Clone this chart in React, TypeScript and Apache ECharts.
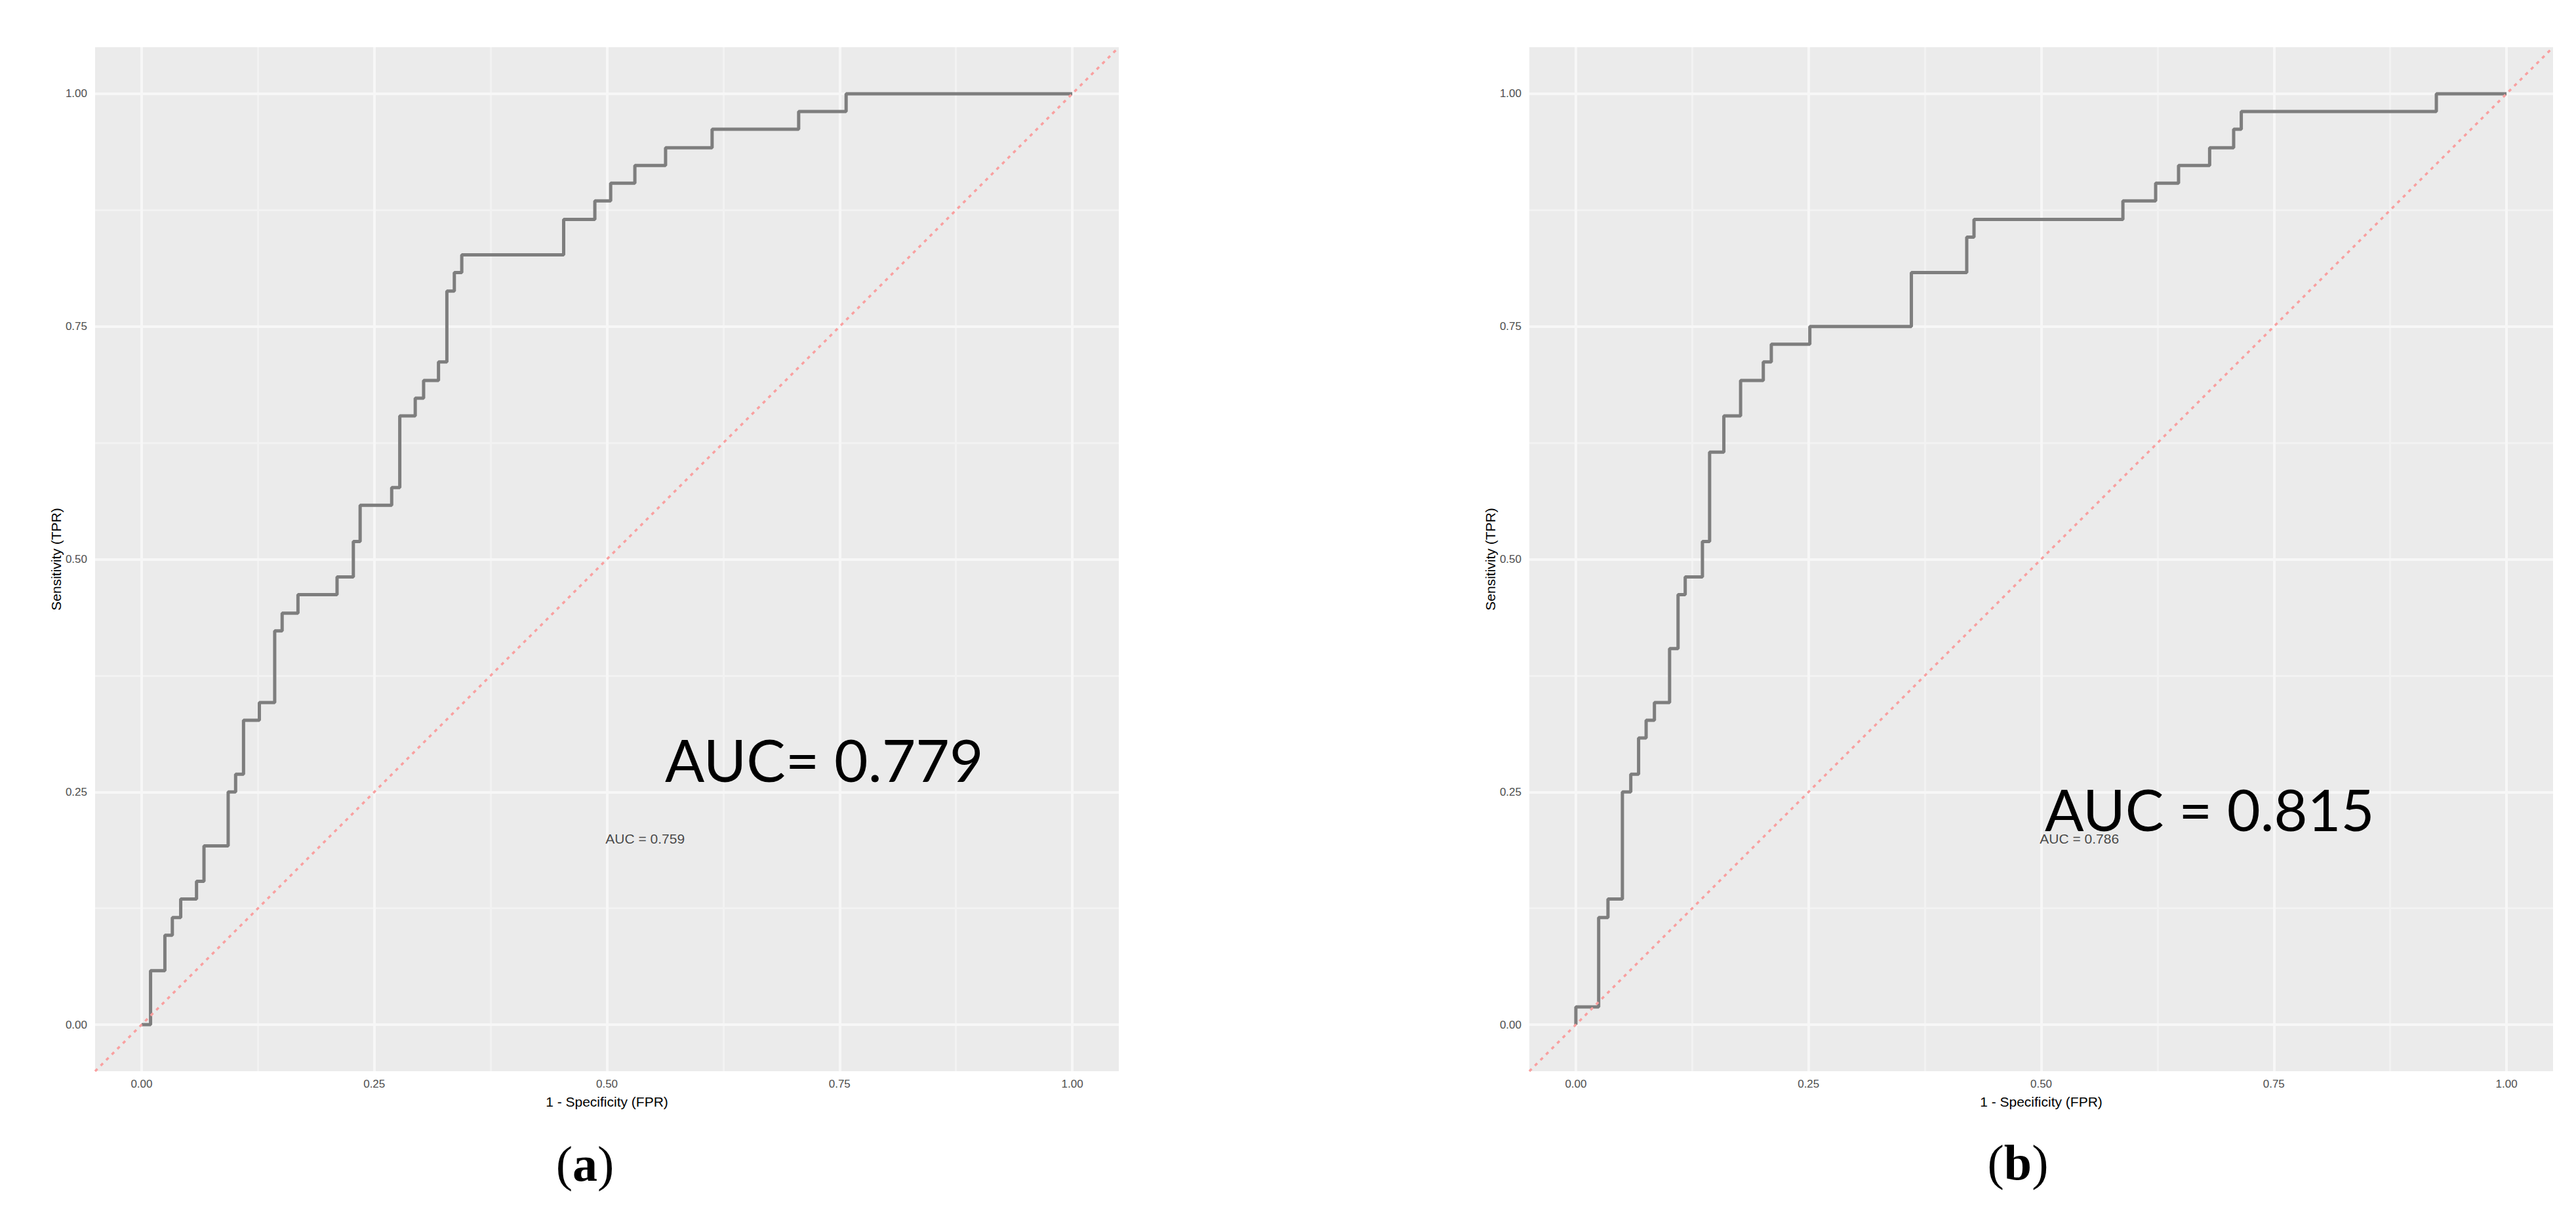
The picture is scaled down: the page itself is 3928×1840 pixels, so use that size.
import React, { useEffect, useRef } from "react";
import * as echarts from "echarts";

// ---------- data ----------
const axisTicks = [0, 0.25, 0.5, 0.75, 1];
const tickLabels = ["0.00", "0.25", "0.50", "0.75", "1.00"];
const minorTicks = [0.125, 0.375, 0.625, 0.875];
const panelRange = [-0.05, 1.05];
const diagonal = [-0.05, 1.05];

// panel (a) ROC: 1 - specificity (FPR) and sensitivity (TPR)
const fprA = [0, 0.0096, 0.025, 0.033, 0.042, 0.059, 0.067, 0.093, 0.101, 0.1095, 0.1265, 0.143, 0.151, 0.168, 0.21, 0.2275, 0.2348, 0.2687, 0.2774, 0.294, 0.303, 0.319, 0.328, 0.336, 0.344, 0.4535, 0.487, 0.504, 0.53, 0.563, 0.613, 0.706, 0.757, 1.0];
const tprA = [0, 0.058, 0.096, 0.115, 0.135, 0.154, 0.192, 0.25, 0.269, 0.327, 0.346, 0.423, 0.442, 0.462, 0.481, 0.519, 0.558, 0.577, 0.654, 0.673, 0.692, 0.712, 0.788, 0.808, 0.827, 0.865, 0.885, 0.904, 0.923, 0.942, 0.962, 0.981, 1.0, 1.0];

// panel (b) ROC
const fprB = [0, 0, 0.0245, 0.0345, 0.05, 0.059, 0.0674, 0.0755, 0.0844, 0.1007, 0.1098, 0.1175, 0.136, 0.1437, 0.159, 0.177, 0.2014, 0.21, 0.2514, 0.3605, 0.42, 0.4278, 0.5878, 0.623, 0.6476, 0.681, 0.7068, 0.715, 0.9246, 1.0];
const tprB = [0, 0.019, 0.115, 0.135, 0.25, 0.269, 0.308, 0.327, 0.346, 0.404, 0.462, 0.481, 0.519, 0.615, 0.654, 0.692, 0.712, 0.731, 0.75, 0.808, 0.846, 0.865, 0.885, 0.904, 0.923, 0.942, 0.962, 0.981, 1.0, 1.0];

const smallAucTexts = ["AUC = 0.759", "AUC = 0.786"];
const bigAucTexts = ["AUC= 0.779", "AUC = 0.815"];
const panelLetters = ["a", "b"];
const xTitle = "1 - Specificity (FPR)";
const yTitle = "Sensitivity (TPR)";

// ---------- layout ----------
const W = 3928;
const H = 1840;
const OUT_TOP = 72;
const PANEL = 1561;
const UNIT = PANEL / (panelRange[1] - panelRange[0]);
const INSET = (0 - panelRange[0]) * UNIT;
const panelLefts = [145, 2332];
const smallAucPos = [0.541, 0.2];
const bigAucPos = [
  { x: 1014, y: 1157, size: 89 },
  { x: 3118, y: 1233, size: 88 },
];
const letterPos = [
  { x: 892, y: 1774 },
  { x: 3077, y: 1772 },
];

const AX_FONT = "'Liberation Sans', Arial, sans-serif";

function buildOption() {
  const grid: any[] = [];
  const xAxis: any[] = [];
  const yAxis: any[] = [];
  const series: any[] = [];
  const graphic: any[] = [];
  const panels = [
    { fpr: fprA, tpr: tprA },
    { fpr: fprB, tpr: tprB },
  ];

  panels.forEach((p, i) => {
    const left = panelLefts[i];
    const o = i * 2;
    const n = i * 2 + 1;
    grid.push({
      left,
      top: OUT_TOP,
      width: PANEL,
      height: PANEL,
      show: true,
      backgroundColor: "#EBEBEB",
      borderWidth: 0,
    });
    grid.push({
      left: left + INSET,
      top: OUT_TOP + INSET,
      width: UNIT,
      height: UNIT,
      show: false,
    });
    xAxis.push({ gridIndex: o, type: "value", min: panelRange[0], max: panelRange[1], show: false });
    yAxis.push({ gridIndex: o, type: "value", min: panelRange[0], max: panelRange[1], show: false });

    const labelFmt = (v: number) => {
      const k = axisTicks.findIndex((t) => Math.abs(t - v) < 1e-9);
      return k >= 0 ? tickLabels[k] : "";
    };
    xAxis.push({
      gridIndex: n,
      type: "value",
      min: 0,
      max: 1,
      interval: 0.25,
      position: "bottom",
      offset: INSET,
      axisLine: { show: false },
      axisTick: { show: true, length: 9, lineStyle: { color: "#333333", width: 2 } },
      axisLabel: {
        show: true,
        showMinLabel: true,
        showMaxLabel: true,
        fontSize: 17,
        color: "#4D4D4D",
        fontFamily: AX_FONT,
        margin: 11,
        formatter: labelFmt,
      },
      splitLine: { show: false },
      name: xTitle,
      nameLocation: "middle",
      nameGap: 36,
      nameTextStyle: { fontSize: 21, color: "#000", fontFamily: AX_FONT },
    });
    yAxis.push({
      gridIndex: n,
      type: "value",
      min: 0,
      max: 1,
      interval: 0.25,
      position: "left",
      offset: INSET,
      axisLine: { show: false },
      axisTick: { show: true, length: 9, lineStyle: { color: "#333333", width: 2 } },
      axisLabel: {
        show: true,
        showMinLabel: true,
        showMaxLabel: true,
        fontSize: 17,
        color: "#4D4D4D",
        fontFamily: AX_FONT,
        margin: 12,
        formatter: labelFmt,
      },
      splitLine: { show: false },
      name: yTitle,
      nameLocation: "middle",
      nameGap: 48,
      nameTextStyle: { fontSize: 21, color: "#000", fontFamily: AX_FONT },
    });

    const lo = panelRange[0];
    const hi = panelRange[1];
    const gridData = (vals: number[]) => {
      const out: any[] = [];
      vals.forEach((v) => {
        out.push({ coords: [[v, lo], [v, hi]] });
        out.push({ coords: [[lo, v], [hi, v]] });
      });
      return out;
    };
    series.push({
      type: "lines",
      coordinateSystem: "cartesian2d",
      xAxisIndex: o,
      yAxisIndex: o,
      z: 1,
      silent: true,
      data: gridData(minorTicks),
      lineStyle: { color: "#F2F2F2", width: 3, opacity: 1, curveness: 0 },
    });
    series.push({
      type: "lines",
      coordinateSystem: "cartesian2d",
      xAxisIndex: o,
      yAxisIndex: o,
      z: 1,
      silent: true,
      data: gridData(axisTicks),
      lineStyle: { color: "#F7F7F7", width: 4, opacity: 1, curveness: 0 },
    });
    series.push({
      type: "line",
      xAxisIndex: o,
      yAxisIndex: o,
      data: p.fpr.map((x, k) => [x, p.tpr[k]]),
      step: "end",
      symbol: "none",
      silent: true,
      z: 3,
      lineStyle: { color: "#7E7E7E", width: 5 },
    });
    series.push({
      type: "line",
      xAxisIndex: o,
      yAxisIndex: o,
      data: diagonal.map((v) => [v, v]),
      symbol: "none",
      silent: true,
      z: 4,
      lineStyle: { color: "#F9A0A0", width: 3.5, type: [5, 7] },
    });
    series.push({
      type: "scatter",
      xAxisIndex: o,
      yAxisIndex: o,
      data: [smallAucPos],
      symbolSize: 1,
      silent: true,
      z: 5,
      itemStyle: { color: "rgba(0,0,0,0)" },
      label: {
        show: true,
        position: "inside",
        formatter: smallAucTexts[i],
        fontSize: 21,
        color: "#1A1A1A",
        fontFamily: AX_FONT,
      },
    });

    const b = bigAucPos[i];
    graphic.push({
      type: "text",
      x: b.x,
      y: b.y,
      z: 10,
      silent: true,
      style: {
        text: bigAucTexts[i],
        fill: "#000",
        font: `${b.size}px Lato, 'Open Sans', sans-serif`,
        fontSize: b.size,
        fontFamily: "Lato, 'Open Sans', sans-serif",
        align: "left",
        textAlign: "left",
        verticalAlign: "middle",
        textVerticalAlign: "middle",
      },
    });
    const L = letterPos[i];
    graphic.push({
      type: "text",
      x: L.x,
      y: L.y,
      z: 10,
      silent: true,
      style: {
        text: `{p|(}{b|${panelLetters[i]}}{p|)}`,
        align: "center",
        textAlign: "center",
        verticalAlign: "middle",
        textVerticalAlign: "middle",
        rich: {
          p: { fontSize: 76, fontFamily: "'Liberation Serif', 'DejaVu Serif', serif", fill: "#000", color: "#000" },
          b: {
            fontSize: 76,
            fontWeight: "bold",
            fontFamily: "'Liberation Serif', 'DejaVu Serif', serif",
            fill: "#000",
            color: "#000",
          },
        },
      },
    });
  });

  return {
    animation: false,
    backgroundColor: "#FFFFFF",
    grid,
    xAxis,
    yAxis,
    series,
    graphic,
  };
}

export default function App() {
  const ref = useRef<HTMLDivElement>(null);
  useEffect(() => {
    if (!ref.current) return;
    const chart = echarts.init(ref.current, null, { renderer: "svg" });
    chart.setOption(buildOption() as any);
    return () => chart.dispose();
  }, []);
  return (
    <div
      ref={ref}
      style={{ position: "fixed", left: 0, top: 0, width: W, height: H, background: "#fff" }}
    />
  );
}
